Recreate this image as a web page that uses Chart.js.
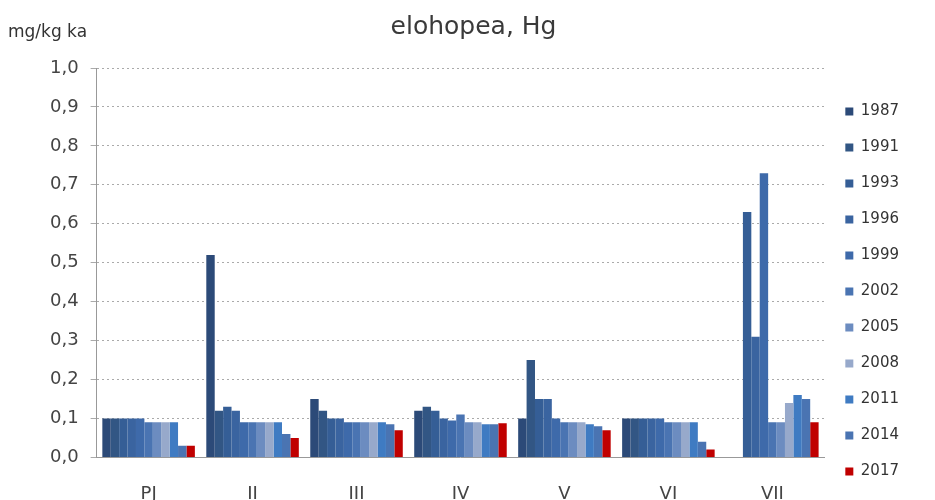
<!DOCTYPE html>
<html>
<head>
<meta charset="utf-8">
<script src="https://cdn.jsdelivr.net/npm/chart.js@4/dist/chart.umd.min.js"></script>
<style>
  body { margin: 0; background: #fff; }
</style>
</head>
<body>
<canvas id="hgChart" width="935" height="500"></canvas>
<script>
//categories
let areas = ["PJ", "II", "III", "IV", "V", "VI", "VII"]
let years = ["1987", "1991", "1993", "1996", "1999", "2002", "2005", "2008", "2011", "2014", "2017"]
//data collected, one list per year (PJ..VII)
let v1987 = [0.10, 0.52, 0.15, 0.12, 0.10, 0.10, null]
let v1991 = [0.10, 0.12, 0.12, 0.13, 0.25, 0.10, null]
let v1993 = [0.10, 0.13, 0.10, 0.12, 0.15, 0.10, 0.63]
let v1996 = [0.10, 0.12, 0.10, 0.10, 0.15, 0.10, 0.31]
let v1999 = [0.10, 0.09, 0.09, 0.095, 0.10, 0.10, 0.73]
let v2002 = [0.09, 0.09, 0.09, 0.11, 0.09, 0.09, 0.09]
let v2005 = [0.09, 0.09, 0.09, 0.09, 0.09, 0.09, 0.09]
let v2008 = [0.09, 0.09, 0.09, 0.09, 0.09, 0.09, 0.14]
let v2011 = [0.09, 0.09, 0.09, 0.085, 0.085, 0.09, 0.16]
let v2014 = [0.03, 0.06, 0.085, 0.085, 0.08, 0.04, 0.15]
let v2017 = [0.03, 0.05, 0.07, 0.088, 0.07, 0.02, 0.09]
let yTicks = [0, 0.1, 0.2, 0.3, 0.4, 0.5, 0.6, 0.7, 0.8, 0.9, 1.0]
let tableName = "elohopea, Hg"
let unitText = "mg/kg ka"
let colors = ["#2c4a78", "#325684", "#355e96", "#3a64a0", "#3e6aaa", "#4a74b2", "#6c8cc0", "#97a9cb", "#3f7bc2", "#4a74b2", "#c00000"]

let seriesValues = [v1987, v1991, v1993, v1996, v1999, v2002, v2005, v2008, v2011, v2014, v2017]
let datasets = years.map(function (y, i) {
    return {
        label: y,
        data: seriesValues[i],
        backgroundColor: colors[i],
        borderWidth: 0,
        barPercentage: 1.0,
        categoryPercentage: 0.89
    }
})

let fontName = "'DejaVu Sans', sans-serif"

// unit text in the top left corner
let unitLabel = {
    id: "unitLabel",
    afterDraw: function (chart) {
        let ctx = chart.ctx
        ctx.save()
        ctx.font = "17px " + fontName
        ctx.fillStyle = "#333"
        ctx.textAlign = "left"
        ctx.textBaseline = "middle"
        ctx.fillText(unitText, 8, 33)
        ctx.restore()
    }
}

let myChart = document.getElementById("hgChart").getContext("2d")
let chart = new Chart(myChart, {
    type: "bar",
    data: {
        labels: areas,
        datasets: datasets
    },
    options: {
        responsive: false,
        animation: false,
        layout: {
            padding: { left: 38, right: 26, top: 0, bottom: -23 }
        },
        plugins: {
            title: {
                text: tableName,
                display: true,
                color: "#3a3a3a",
                font: { family: fontName, size: 25, weight: "normal" },
                padding: { top: 12, bottom: 26 }
            },
            legend: {
                position: "right",
                title: {
                    // empty title only pushes the entries down
                    display: true,
                    text: "",
                    font: { size: 10 },
                    padding: { top: 24, bottom: 24 }
                },
                labels: {
                    color: "#333",
                    font: { family: fontName, size: 15 },
                    boxWidth: 8,
                    boxHeight: 8,
                    padding: 21
                }
            },
            tooltip: { enabled: false }
        },
        scales: {
            x: {
                grid: { display: false },
                border: { display: true, color: "#999" },
                ticks: {
                    color: "#444",
                    font: { family: fontName, size: 18 },
                    padding: 18
                }
            },
            y: {
                min: 0,
                max: 1,
                afterBuildTicks: function (axis) {
                    axis.ticks = yTicks.map(function (v) { return { value: v } })
                },
                grid: {
                    color: "#aaa",
                    tickLength: 6,
                    drawTicks: true
                },
                border: { display: true, color: "#999", dash: [2, 3] },
                ticks: {
                    color: "#444",
                    font: { family: fontName, size: 18 },
                    padding: 12,
                    callback: function (v) { return v.toFixed(1).replace(".", ",") }
                }
            }
        }
    },
    plugins: [unitLabel]
})
</script>
</body>
</html>
